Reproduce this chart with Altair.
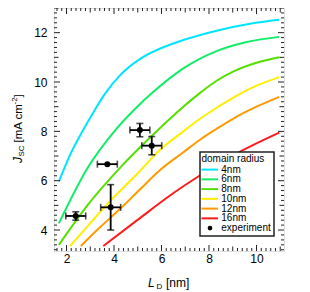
import altair as alt
import pandas as pd

# ---------------- data ----------------
radii = ["4nm", "6nm", "8nm", "10nm", "12nm", "16nm"]
colors = ["#00e5ff", "#11ee66", "#55e000", "#ffee00", "#ff9a00", "#ff1a1a"]

L_4 = [1.68, 2.2, 2.67, 3.0, 3.58, 4.28, 5.12, 6.0, 6.92, 8.32, 9.73, 10.96]
J_4 = [5.97, 7.15, 8.0, 8.55, 9.47, 10.3, 10.95, 11.38, 11.7, 12.08, 12.36, 12.52]
L_6 = [1.68, 2.88, 4.1, 4.98, 5.6, 6.92, 8.32, 9.5, 10.96]
J_6 = [4.27, 6.5, 8.1, 9.0, 9.55, 10.55, 11.25, 11.6, 11.83]
L_8 = [1.68, 2.88, 4.28, 5.52, 6.92, 7.68, 8.32, 9.08, 10.0, 10.96]
J_8 = [3.4, 5.0, 6.55, 7.75, 9.0, 9.6, 10.05, 10.45, 10.78, 11.0]
L_10 = [2.15, 3.0, 3.86, 5.0, 5.94, 6.92, 7.68, 8.32, 9.08, 10.0, 10.96]
J_10 = [3.35, 4.28, 5.2, 6.3, 7.25, 8.0, 8.55, 8.95, 9.4, 9.85, 10.2]
L_12 = [2.6, 3.4, 4.25, 5.1, 5.94, 6.92, 7.68, 8.32, 9.08, 10.0, 10.96]
J_12 = [3.35, 4.1, 4.85, 5.65, 6.43, 7.15, 7.7, 8.1, 8.55, 9.0, 9.4]
L_16 = [3.55, 4.98, 6.3, 7.68, 9.08, 10.96]
J_16 = [3.35, 4.4, 5.36, 6.25, 7.06, 7.95]

exp_L = [2.39, 3.72, 3.86, 5.09, 5.59]
exp_J = [4.57, 6.67, 4.92, 8.05, 7.42]
exp_Lerr = [0.42, 0.42, 0.42, 0.42, 0.42]
exp_Jerr = [0.17, 0.0, 0.92, 0.27, 0.37]

x_ticks = [2, 4, 6, 8, 10]
y_ticks = [4, 6, 8, 10, 12]

# ---------------- layout ----------------
W, H = 230, 243
XDOM = [1.474, 11.158]
YDOM = [3.15, 13.0]
FONT = "Liberation Sans"

curve_L = [L_4, L_6, L_8, L_10, L_12, L_16]
curve_J = [J_4, J_6, J_8, J_10, J_12, J_16]
rows = []
for r, Ls, Js in zip(radii, curve_L, curve_J):
    for l, j in zip(Ls, Js):
        rows.append({"radius": r, "L": l, "J": j})
curves = pd.DataFrame(rows)

exp = pd.DataFrame({"L": exp_L, "J": exp_J})
exp["xlo"] = [l - e for l, e in zip(exp_L, exp_Lerr)]
exp["xhi"] = [l + e for l, e in zip(exp_L, exp_Lerr)]
exp["ylo"] = [j - e for j, e in zip(exp_J, exp_Jerr)]
exp["yhi"] = [j + e for j, e in zip(exp_J, exp_Jerr)]
exp["hasy"] = [e > 0 for e in exp_Jerr]

xs = alt.Scale(domain=XDOM, nice=False, zero=False)
ys = alt.Scale(domain=YDOM, nice=False, zero=False)

xaxis = alt.Axis(values=x_ticks, ticks=False, domain=False, grid=False, title=None,
                 labelFontSize=12, labelColor="black", labelPadding=2, labelFont=FONT)
yaxis = alt.Axis(values=y_ticks, ticks=False, domain=False, grid=False, title=None,
                 labelFontSize=12, labelColor="black", labelPadding=7, labelFont=FONT)

lines = alt.Chart(curves).mark_line(strokeWidth=2, clip=True, interpolate="monotone").encode(
    x=alt.X("L:Q", scale=xs, axis=xaxis),
    y=alt.Y("J:Q", scale=ys, axis=yaxis),
    color=alt.Color("radius:N", scale=alt.Scale(domain=radii, range=colors), legend=None),
    detail="radius:N",
    order="L:Q",
)

# ---------------- inward ticks on all four sides ----------------
xt = [round(1.6 + 0.2 * i, 1) for i in range(48)]
yt = [round(3.2 + 0.2 * i, 1) for i in range(50)]


def kind(v):
    if abs(v - round(v)) < 1e-6:
        return "major" if int(round(v)) % 2 == 0 else "mid"
    return "minor"


tick_len = {"major": 6, "mid": 4.5, "minor": 3}
xt_df = pd.DataFrame({"v": xt, "k": [kind(v) for v in xt]})
yt_df = pd.DataFrame({"v": yt, "k": [kind(v) for v in yt]})
tick_layers = []
for k, ln in tick_len.items():
    xd = xt_df[xt_df.k == k]
    yd = yt_df[yt_df.k == k]
    base_x = alt.Chart(xd).mark_rule(color="#222", strokeWidth=1)
    tick_layers.append(base_x.encode(x=alt.X("v:Q", scale=xs), y=alt.value(H), y2=alt.value(H - ln)))
    tick_layers.append(base_x.encode(x=alt.X("v:Q", scale=xs), y=alt.value(0), y2=alt.value(ln)))
    base_y = alt.Chart(yd).mark_rule(color="#222", strokeWidth=1)
    tick_layers.append(base_y.encode(y=alt.Y("v:Q", scale=ys), x=alt.value(0), x2=alt.value(ln)))
    tick_layers.append(base_y.encode(y=alt.Y("v:Q", scale=ys), x=alt.value(W), x2=alt.value(W - ln)))

# ---------------- experiment points ----------------
ebx = alt.Chart(exp).mark_rule(color="black", strokeWidth=1.8).encode(
    x=alt.X("xlo:Q", scale=xs), x2="xhi:Q", y=alt.Y("J:Q", scale=ys))
capx1 = alt.Chart(exp).mark_tick(color="black", orient="vertical", size=7, thickness=1.6).encode(
    x=alt.X("xlo:Q", scale=xs), y=alt.Y("J:Q", scale=ys))
capx2 = alt.Chart(exp).mark_tick(color="black", orient="vertical", size=7, thickness=1.6).encode(
    x=alt.X("xhi:Q", scale=xs), y=alt.Y("J:Q", scale=ys))
eby = alt.Chart(exp).transform_filter("datum.hasy").mark_rule(color="black", strokeWidth=1.8).encode(
    x=alt.X("L:Q", scale=xs), y=alt.Y("ylo:Q", scale=ys), y2="yhi:Q")
capy1 = alt.Chart(exp).transform_filter("datum.hasy").mark_tick(
    color="black", orient="horizontal", size=7, thickness=1.6).encode(
    x=alt.X("L:Q", scale=xs), y=alt.Y("ylo:Q", scale=ys))
capy2 = alt.Chart(exp).transform_filter("datum.hasy").mark_tick(
    color="black", orient="horizontal", size=7, thickness=1.6).encode(
    x=alt.X("L:Q", scale=xs), y=alt.Y("yhi:Q", scale=ys))
dots = alt.Chart(exp).mark_point(filled=True, color="black", size=36, opacity=1).encode(
    x=alt.X("L:Q", scale=xs), y=alt.Y("J:Q", scale=ys))

# ---------------- decorations (legend + axis titles) ----------------
one = pd.DataFrame({"a": [0]})


def txt(s, x, y, size=12, italic=False, angle=None, baseline="alphabetic"):
    kw = dict(text=s, font=FONT, fontSize=size, color="black", align="left", baseline=baseline)
    if italic:
        kw["fontStyle"] = "italic"
    if angle is not None:
        kw["angle"] = angle
    return alt.Chart(one).mark_text(**kw).encode(x=alt.value(x), y=alt.value(y))


deco = []
# legend box
deco.append(alt.Chart(one).mark_rect(fill="white", stroke="#222", strokeWidth=1.5).encode(
    x=alt.value(146), x2=alt.value(220), y=alt.value(144), y2=alt.value(228)))
deco.append(txt("domain radius", 147.5, 150.7, size=10, baseline="middle"))
for i, (r, c) in enumerate(zip(radii, colors)):
    yy = 161.6 + 9.75 * i
    deco.append(alt.Chart(one).mark_rule(color=c, strokeWidth=2).encode(
        x=alt.value(147.5), x2=alt.value(164), y=alt.value(yy)))
    deco.append(txt(r, 167.3, yy, size=10, baseline="middle"))
yy = 161.6 + 9.75 * 6
deco.append(alt.Chart(one).mark_point(filled=True, color="black", size=22, opacity=1).encode(
    x=alt.value(156), y=alt.value(yy)))
deco.append(txt("experiment", 167.3, yy, size=10, baseline="middle"))

# x title: L_D [nm]
deco.append(txt("L", 94, 279, italic=True))
deco.append(txt("D", 102.5, 281, size=8))
deco.append(txt("[nm]", 112, 279))
# y title: J_SC [mA cm^-2]
deco.append(txt("J", -32.5, 155, italic=True, angle=270))
deco.append(txt("SC", -30, 148.5, size=8, angle=270))
deco.append(txt("[mA cm", -32.5, 134.5, size=11.5, angle=270))
deco.append(txt("-2", -37, 96.5, size=8, angle=270))
deco.append(txt("]", -32.5, 89.5, size=11.5, angle=270))

chart = alt.layer(lines, *tick_layers, ebx, capx1, capx2, eby, capy1, capy2, dots, *deco).properties(
    width=W, height=H,
    autosize=alt.AutoSizeParams(type="none"),
    padding={"left": 46, "top": 0, "right": 10, "bottom": 41},
).configure_view(stroke="#222", strokeWidth=1.5).configure(font=FONT)

chart.save("out.html", embed_options={"renderer": "svg", "actions": False})
